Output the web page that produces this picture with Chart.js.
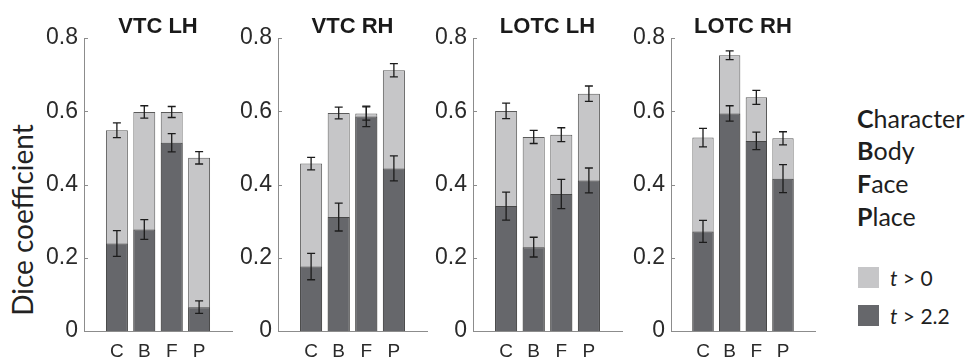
<!DOCTYPE html>
<html>
<head>
<meta charset="utf-8">
<script src="https://cdn.jsdelivr.net/npm/chart.js@4.4.1/dist/chart.umd.min.js"></script>
<style>
  body { margin: 0; background: #fff; }
  #wrap { position: relative; width: 967px; height: 360px; overflow: hidden; }
  .panel { position: absolute; top: 0; height: 360px; }
  #ylab { position: absolute; left: 22px; top: 220px; transform: translate(-50%, -50%) rotate(-90deg);
          font: 28px Lato, "Open Sans", sans-serif; color: #222; white-space: nowrap; }
  .key { position: absolute; font-family: Lato, "Open Sans", sans-serif; color: #1e1e1e; white-space: nowrap; }
  .swatch { position: absolute; width: 21px; height: 21px; }
</style>
</head>
<body>
<div id="wrap">
  <div id="ylab">Dice coefficient</div>
</div>
<script>
// panels and categories
var panels = ['VTC LH', 'VTC RH', 'LOTC LH', 'LOTC RH'];
var categories = ['C', 'B', 'F', 'P'];
var categoryNames = ['Character', 'Body', 'Face', 'Place'];
var seriesNames = ['t > 0', 't > 2.2'];
var yTicks = [0, 0.2, 0.4, 0.6, 0.8];

// Dice coefficient, threshold t > 0 (one row per panel)
var diceT0 = [
  [0.548, 0.598, 0.598, 0.473],
  [0.457, 0.595, 0.594, 0.712],
  [0.601, 0.530, 0.536, 0.648],
  [0.528, 0.753, 0.638, 0.526]
];
var errT0 = [
  [0.020, 0.017, 0.015, 0.017],
  [0.017, 0.016, 0.018, 0.018],
  [0.021, 0.018, 0.019, 0.021],
  [0.025, 0.012, 0.019, 0.018]
];
// Dice coefficient, threshold t > 2.2
var diceT22 = [
  [0.239, 0.277, 0.514, 0.065],
  [0.176, 0.311, 0.586, 0.444],
  [0.341, 0.229, 0.374, 0.411],
  [0.272, 0.594, 0.519, 0.416]
];
var errT22 = [
  [0.035, 0.027, 0.025, 0.017],
  [0.036, 0.038, 0.028, 0.034],
  [0.038, 0.027, 0.040, 0.034],
  [0.030, 0.021, 0.024, 0.038]
];

var colors = ['#c6c6c8', '#66676b'];

// where each plot area sits on the page
var axisLeft = [84, 278, 473, 671];
var axisRight = [232, 427, 622, 815];

// error bars + inward MATLAB style ticks
var errorBars = {
  id: 'errorBars',
  afterDatasetsDraw: function(chart) {
    var ctx = chart.ctx;
    var y = chart.scales.y, x = chart.scales.x;
    ctx.save();
    ctx.strokeStyle = '#8c8c8c';
    ctx.lineWidth = 1;
    yTicks.forEach(function(v) {
      var py = Math.round(y.getPixelForValue(v)) + 0.5;
      ctx.beginPath();
      ctx.moveTo(x.left, py);
      ctx.lineTo(x.left + 4, py);
      ctx.stroke();
    });
    chart.data.datasets.forEach(function(ds, d) {
      var meta = chart.getDatasetMeta(d);
      meta.data.forEach(function(bar, k) {
        var v = ds.data[k].y, e = ds.errors[k];
        var top = y.getPixelForValue(v + e), bot = y.getPixelForValue(v - e);
        ctx.strokeStyle = '#1c1c1c';
        ctx.lineWidth = 1.3;
        ctx.beginPath();
        ctx.moveTo(bar.x, top); ctx.lineTo(bar.x, bot);
        ctx.moveTo(bar.x - 4, top); ctx.lineTo(bar.x + 4, top);
        ctx.moveTo(bar.x - 4, bot); ctx.lineTo(bar.x + 4, bot);
        ctx.stroke();
      });
    });
    ctx.restore();
  }
};

var wrap = document.getElementById('wrap');

panels.forEach(function(name, i) {
  var yw = i === 0 ? 84 : 62;
  var padRight = 3;
  var div = document.createElement('div');
  div.className = 'panel';
  div.style.left = (axisLeft[i] - yw) + 'px';
  div.style.width = (axisRight[i] - axisLeft[i] + yw + padRight) + 'px';
  var canvas = document.createElement('canvas');
  div.appendChild(canvas);
  wrap.appendChild(div);

  new Chart(canvas, {
    type: 'bar',
    data: {
      datasets: [
        {
          label: seriesNames[1],
          data: diceT22[i].map(function(v, k) { return {x: k + 1, y: v}; }),
          errors: errT22[i],
          backgroundColor: colors[1],
          borderColor: '#474747',
          borderWidth: 1,
          grouped: false,
          order: 1
        },
        {
          label: seriesNames[0],
          data: diceT0[i].map(function(v, k) { return {x: k + 1, y: v}; }),
          errors: errT0[i],
          backgroundColor: colors[0],
          borderColor: '#5a5a5a',
          borderWidth: 1,
          grouped: false,
          order: 2
        }
      ]
    },
    options: {
      responsive: true,
      maintainAspectRatio: false,
      animation: false,
      barPercentage: 0.8,
      categoryPercentage: 1,
      layout: { padding: { left: 0, right: padRight, top: 0, bottom: 0 } },
      plugins: {
        legend: { display: false },
        tooltip: { enabled: false },
        title: {
          display: true,
          fullSize: false,
          text: name,
          color: '#1a1a1a',
          font: { family: '"Liberation Sans", Arial, sans-serif', size: 22, weight: 'bold', lineHeight: 1.0 },
          padding: { top: 16, bottom: 0 }
        }
      },
      scales: {
        x: {
          type: 'linear',
          offset: false,
          min: -0.2,
          max: 5.2,
          grid: { display: false, drawTicks: false, offset: false },
          border: { display: true, color: '#8c8c8c', width: 1 },
          afterBuildTicks: function(scale) {
            scale.ticks = categories.map(function(c, k) { return {value: k + 1}; });
          },
          afterFit: function(scale) { scale.height = 29; },
          ticks: {
            padding: 9,
            color: '#2a2a2a',
            font: { family: '"Liberation Sans", Arial, sans-serif', size: 19 },
            callback: function(v) { return categories[v - 1]; }
          }
        },
        y: {
          min: 0,
          max: 0.8,
          grid: { display: false, drawTicks: false },
          border: { display: true, color: '#8c8c8c', width: 1 },
          afterBuildTicks: function(scale) {
            scale.ticks = yTicks.map(function(v) { return {value: v}; });
          },
          afterFit: function(scale) { scale.width = yw; },
          ticks: {
            padding: 6,
            color: '#2a2a2a',
            font: { family: '"Liberation Sans", Arial, sans-serif', size: 23 },
            callback: function(v) { return v === 0 ? '0' : v.toFixed(1); }
          }
        }
      }
    },
    plugins: [errorBars]
  });
});

// category key
var keyTops = [106, 138, 171, 204];
categoryNames.forEach(function(n, k) {
  var el = document.createElement('div');
  el.className = 'key';
  el.style.left = '857px';
  el.style.top = keyTops[k] + 'px';
  el.style.fontSize = '25px';
  el.style.lineHeight = '24px';
  el.innerHTML = '<b>' + n.charAt(0) + '</b>' + n.slice(1);
  wrap.appendChild(el);
});

// threshold key
var swTops = [267, 305];
[0, 1].forEach(function(s) {
  var sw = document.createElement('div');
  sw.className = 'swatch';
  sw.style.left = '858px';
  sw.style.top = swTops[s] + 'px';
  sw.style.background = colors[s];
  wrap.appendChild(sw);
  var el = document.createElement('div');
  el.className = 'key';
  el.style.left = '890px';
  el.style.top = swTops[s] + 'px';
  el.style.fontSize = '21px';
  el.style.lineHeight = '21px';
  var nm = seriesNames[s];
  el.innerHTML = '<i>' + nm.charAt(0) + '</i>' + nm.slice(1).replace('>', '&gt;');
  wrap.appendChild(el);
});
</script>
</body>
</html>
